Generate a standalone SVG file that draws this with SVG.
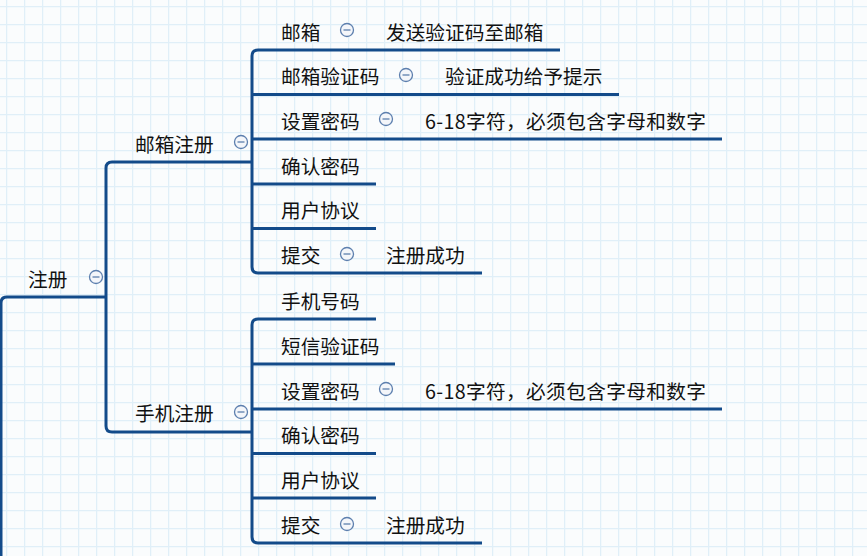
<svg xmlns="http://www.w3.org/2000/svg" width="867" height="556" viewBox="0 0 867 556">
<defs>
<pattern id="grid" x="6" y="6" width="18" height="18" patternUnits="userSpaceOnUse">
<path d="M0 0.5H18M0.5 0V18" fill="none" stroke="#e0eff8" stroke-width="1.5"/>
</pattern>
</defs>
<style>
.t{font-family:"Noto Sans CJK SC","Noto Sans",sans-serif;font-size:19.7px;fill:#111;dominant-baseline:central}
.ln{fill:none;stroke:#134b8a;stroke-width:3}
.ic circle{fill:#f4f6fa;stroke:#5d7fae;stroke-width:1.3}
.ic path{stroke:#5d7fae;stroke-width:1.3}
</style>
<rect width="867" height="556" fill="#fafcfd"/>
<rect width="867" height="556" fill="url(#grid)"/>
<g id="connectors">
<path class="ln" d="M1 556V303Q1 297 7 297H106"/>
<path class="ln" d="M252 162H112Q106 162 106 168V426Q106 432 112 432H252"/>
<path class="ln" d="M560 50H258Q252 50 252 56V267Q252 273 258 273H482"/>
<path class="ln" d="M252 94.5H619M252 139H722M252 184H376M252 228.5H376"/>
<path class="ln" d="M376 319H258Q252 319 252 325V537Q252 543 258 543H482"/>
<path class="ln" d="M252 364H395M252 409H722M252 453.5H376M252 498H376"/>
</g>
<defs>
<g id="icon" class="ic"><circle r="6.5"/><path d="M-3.5 0H3.5"/></g>
</defs>
<g id="root"><text class="t" x="28" y="278">注册</text><use href="#icon" x="96" y="277"/></g>
<g id="mail"><text class="t" x="135" y="143">邮箱注册</text><use href="#icon" x="241" y="142"/></g>
<g id="phone"><text class="t" x="135" y="412">手机注册</text><use href="#icon" x="241" y="412"/></g>
<g id="m1"><text class="t" x="281" y="31">邮箱</text><use href="#icon" x="347" y="30"/></g>
<g id="m1a"><text class="t" x="386" y="31">发送验证码至邮箱</text></g>
<g id="m2"><text class="t" x="281" y="75.5">邮箱验证码</text><use href="#icon" x="406" y="75"/></g>
<g id="m2a"><text class="t" x="445" y="75.5">验证成功给予提示</text></g>
<g id="m3"><text class="t" x="281" y="120">设置密码</text><use href="#icon" x="386" y="119"/></g>
<g id="m3a"><text class="t" x="425" y="120" textLength="281" lengthAdjust="spacing">6-18字符，必须包含字母和数字</text></g>
<g id="m4"><text class="t" x="281" y="165">确认密码</text></g>
<g id="m5"><text class="t" x="281" y="209.5">用户协议</text></g>
<g id="m6"><text class="t" x="281" y="254.5">提交</text><use href="#icon" x="347" y="254"/></g>
<g id="m6a"><text class="t" x="386" y="254.5">注册成功</text></g>
<g id="p1"><text class="t" x="281" y="300">手机号码</text></g>
<g id="p2"><text class="t" x="281" y="345">短信验证码</text></g>
<g id="p3"><text class="t" x="281" y="390">设置密码</text><use href="#icon" x="386" y="389"/></g>
<g id="p3a"><text class="t" x="425" y="390" textLength="281" lengthAdjust="spacing">6-18字符，必须包含字母和数字</text></g>
<g id="p4"><text class="t" x="281" y="434.5">确认密码</text></g>
<g id="p5"><text class="t" x="281" y="479">用户协议</text></g>
<g id="p6"><text class="t" x="281" y="524.5">提交</text><use href="#icon" x="347" y="524"/></g>
<g id="p6a"><text class="t" x="386" y="524.5">注册成功</text></g>
</svg>
